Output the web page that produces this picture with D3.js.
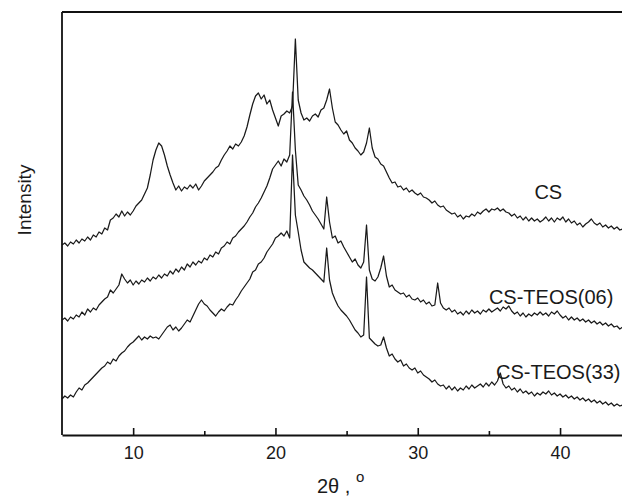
<!DOCTYPE html>
<html>
<head>
<meta charset="utf-8">
<script src="https://cdn.jsdelivr.net/npm/d3@7"></script>
<style>
  html, body { margin: 0; padding: 0; background: #fff; }
  svg { display: block; }
  text { font-family: "Liberation Sans", Arial, sans-serif; fill: #1a1a1a; }
</style>
</head>
<body>
<svg id="chart" width="622" height="496"></svg>
<script>
// 2θ sampling grid (degrees): start and step of the scan
const twoThetaStart = 5.0;
const twoThetaStep = 0.2;

// Intensity (arbitrary units), one value per 0.2° step from 5.0° to 44.4°
const csIntensity = [
  190,192,189,193,191,195,192,196,194,198,195,200,198,203,201,207,205,215,217,221,
  218,224,219,223,220,224,229,232,235,241,247,260,275,285,292,289,280,269,260,252,
  245,249,244,248,246,250,247,251,245,249,254,257,260,263,267,269,275,280,284,289,
  286,291,289,293,299,308,320,331,339,342,336,340,331,335,325,317,309,319,321,324,
  322,329,396,335,322,315,317,314,319,321,318,325,327,335,346,327,313,310,305,301,
  304,295,292,287,284,280,283,292,307,287,278,276,271,269,263,257,252,253,248,249,
  245,247,243,245,242,240,242,238,237,235,232,234,230,228,229,225,223,221,222,218,
  220,216,219,218,221,219,223,221,224,226,223,226,225,227,224,226,223,222,219,221,
  217,219,215,218,214,217,214,216,213,215,218,214,217,213,217,215,218,213,216,212,
  214,210,212,208,211,213,216,212,210,212,208,210,207,209,206,208,205,206
];
const teos06Intensity = [
  115,117,114,118,116,120,118,123,120,126,123,127,125,130,133,136,138,145,142,146,
  150,161,156,152,155,150,154,151,155,153,157,154,158,156,160,157,161,159,164,161,
  166,163,168,165,171,168,173,170,174,172,177,175,180,178,183,181,187,189,193,191,
  197,199,203,206,209,213,218,222,228,232,237,243,249,257,266,270,274,269,276,273,
  280,343,285,250,245,239,235,230,224,220,216,211,206,238,213,197,199,192,194,188,
  183,178,173,176,170,167,173,210,165,156,154,158,167,179,159,148,150,145,143,141,
  142,138,140,136,135,137,133,135,131,133,129,130,152,132,127,125,127,123,125,121,
  123,120,124,121,125,122,124,121,125,123,126,123,125,127,124,128,126,129,124,121,
  123,119,122,118,121,119,122,120,123,120,122,119,123,121,124,120,117,119,115,118,
  115,117,114,116,113,115,112,114,111,113,110,112,109,111,108,109,106,108
];
const teos33Intensity = [
  36,39,37,40,38,43,47,45,50,52,55,58,61,64,67,69,73,71,76,74,
  79,82,84,88,91,93,96,99,95,98,96,99,97,98,96,100,104,108,110,105,
  108,104,107,111,115,113,119,125,131,135,131,129,125,122,119,123,126,124,128,131,
  130,135,139,144,148,152,156,163,165,171,173,177,183,187,191,197,199,202,199,204,
  197,280,220,203,185,173,170,167,165,162,159,156,153,187,155,142,135,129,125,122,
  119,115,110,105,102,98,100,158,97,94,91,89,90,98,87,79,81,76,73,75,
  69,71,67,65,67,62,64,60,58,56,53,55,51,49,50,46,49,45,48,44,
  47,45,49,46,50,47,49,51,48,52,49,53,50,54,62,51,47,49,45,47,
  43,46,42,44,41,43,39,42,40,43,41,44,40,42,39,41,38,40,37,39,
  36,38,35,37,34,36,33,35,32,34,31,33,30,32,29,31,29,30
];

const seriesNames = ["CS", "CS-TEOS(06)", "CS-TEOS(33)"];
const seriesValues = [csIntensity, teos06Intensity, teos33Intensity];
const labelAt = [[38.2, 236], [35.0, 131], [35.5, 56]]; // [2θ, intensity] anchor for each curve label

const majorTicks = [10, 20, 30, 40];
const minorTicks = [15, 25, 35];
const xLabel = "2θ , ";
const yLabel = "Intensity";

const svg = d3.select("#chart");
const plotLeft = 62, plotTop = 12, plotBottom = 435;
const x = d3.scaleLinear().domain([5, 45]).range([plotLeft, plotLeft + 569.2]);
const y = d3.scaleLinear().domain([0, 423]).range([plotBottom, plotTop]);

// curves
const line = d3.line().x(d => x(d[0])).y(d => y(d[1]));
seriesValues.forEach((vals) => {
  const pts = vals.map((v, i) => [twoThetaStart + i * twoThetaStep, v]);
  svg.append("path")
    .attr("d", line(pts))
    .attr("fill", "none")
    .attr("stroke", "#1a1a1a")
    .attr("stroke-width", 1.25)
    .attr("stroke-linejoin", "round");
});

// frame (top, left)
const frame = svg.append("g").attr("stroke", "#111").attr("stroke-width", 1.8).attr("fill", "none");
frame.append("line").attr("x1", x(5)).attr("x2", x(45)).attr("y1", y(423)).attr("y2", y(423));
frame.append("line").attr("x1", x(5)).attr("x2", x(5)).attr("y1", y(423)).attr("y2", y(0));

// bottom axis
const xAxis = d3.axisBottom(x).tickValues(majorTicks).tickSizeInner(-7).tickSizeOuter(0).tickPadding(11).tickFormat(d3.format("d"));
const gx = svg.append("g").attr("transform", `translate(0,${plotBottom})`).call(xAxis);
gx.select(".domain").attr("stroke", "#111").attr("stroke-width", 1.8);
gx.selectAll(".tick line").attr("stroke", "#111").attr("stroke-width", 1.6);
gx.selectAll(".tick text").attr("font-size", 18).attr("font-family", "Liberation Sans, Arial, sans-serif").attr("fill", "#1a1a1a");
const xMinor = d3.axisBottom(x).tickValues(minorTicks).tickSizeInner(-4).tickSizeOuter(0).tickFormat("");
const gm = svg.append("g").attr("transform", `translate(0,${plotBottom})`).call(xMinor);
gm.select(".domain").remove();
gm.selectAll(".tick line").attr("stroke", "#111").attr("stroke-width", 1.6);

// curve labels
seriesNames.forEach((name, i) => {
  svg.append("text")
    .attr("x", x(labelAt[i][0]))
    .attr("y", y(labelAt[i][1]))
    .attr("font-size", 20)
    .text(name);
});

// axis titles
const xt = svg.append("text").attr("x", 317).attr("y", 493).attr("font-size", 20);
xt.append("tspan").text(xLabel);
xt.append("tspan").attr("font-size", 15).attr("dy", -11).text("o");

svg.append("text")
  .attr("transform", "translate(31,200) rotate(-90)")
  .attr("text-anchor", "middle")
  .attr("font-size", 19)
  .text(yLabel);
</script>
</body>
</html>
